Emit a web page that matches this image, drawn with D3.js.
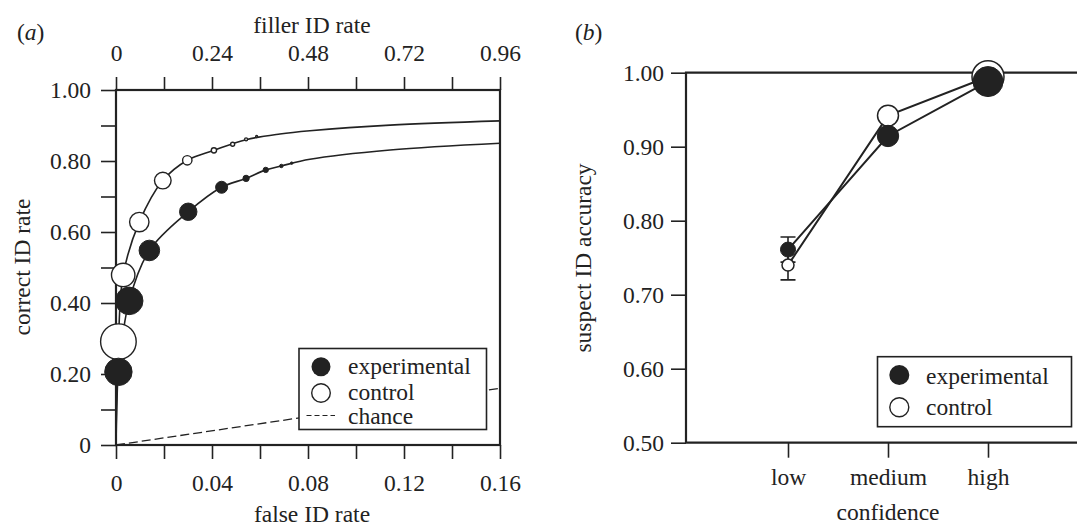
<!DOCTYPE html>
<html>
<head>
<meta charset="utf-8">
<script src="https://cdn.jsdelivr.net/npm/d3@7"></script>
<style>
  body { margin: 0; background: #fff; }
  svg, svg text { font-family: "Liberation Serif", "Times New Roman", serif; }
</style>
</head>
<body>
<svg id="svg" width="1077" height="526"></svg>
<script>
// ---- panel (a) data ----
const expFalse   = [0.001, 0.0055, 0.0139, 0.0301, 0.044, 0.0542, 0.0624, 0.0689, 0.0732];
const expCorrect = [0.206, 0.406, 0.548, 0.657, 0.726, 0.751, 0.775, 0.786, 0.794];
const expWeight  = [188, 190, 106, 76, 36, 10, 7, 3, 1.5];

const ctrlFalse   = [0.001, 0.003, 0.0097, 0.0195, 0.0297, 0.0408, 0.0486, 0.0542, 0.0586];
const ctrlCorrect = [0.291, 0.479, 0.628, 0.745, 0.802, 0.830, 0.847, 0.861, 0.869];
const ctrlWeight  = [317, 137, 94, 69, 22, 7, 4, 2.2, 1];

// fitted curves
const expCurveX  = [0, 0.0004, 0.001, 0.0055, 0.0139, 0.0301, 0.044, 0.0542, 0.0624, 0.0689, 0.0808, 0.1142, 0.16];
const expCurveY  = [0, 0.12, 0.206, 0.406, 0.548, 0.657, 0.726, 0.751, 0.775, 0.786, 0.805, 0.831, 0.850];
const ctrlCurveX = [0, 0.0003, 0.001, 0.003, 0.0097, 0.0195, 0.0297, 0.0408, 0.0542, 0.0683, 0.0808, 0.1142, 0.16];
const ctrlCurveY = [0, 0.15, 0.291, 0.479, 0.628, 0.745, 0.802, 0.830, 0.860, 0.876, 0.885, 0.901, 0.913];
const chanceX = [0, 0.16];
const chanceY = [0, 0.16];

const falseTicks = [0, 0.02, 0.04, 0.06, 0.08, 0.10, 0.12, 0.14, 0.16];
const falseTickLabels = ["0", "", "0.04", "", "0.08", "", "0.12", "", "0.16"];
const fillerTicks = [0, 0.12, 0.24, 0.36, 0.48, 0.60, 0.72, 0.84, 0.96];
const fillerTickLabels = ["0", "", "0.24", "", "0.48", "", "0.72", "", "0.96"];
const correctTicks = [0, 0.1, 0.2, 0.3, 0.4, 0.5, 0.6, 0.7, 0.8, 0.9, 1.0];
const correctTickLabels = ["0", "", "0.20", "", "0.40", "", "0.60", "", "0.80", "", "1.00"];

// ---- panel (b) data ----
const confidence = ["low", "medium", "high"];
const expAcc  = [0.761, 0.9145, 0.988];
const expErr  = [0.017, 0, 0];
const expN    = [56, 114, 225];
const ctrlAcc = [0.740, 0.942, 0.9946];
const ctrlErr = [0.020, 0, 0];
const ctrlN   = [36, 110, 256];
const accTicks = [0.5, 0.6, 0.7, 0.8, 0.9, 1.0];
const accTickLabels = ["0.50", "0.60", "0.70", "0.80", "0.90", "1.00"];

const ink = "#222";
const fontSize = 23.5;

let svg = d3.select("#svg");

function styleAxis(g, width) {
  g.attr("font-family", null).attr("font-size", null);
  g.select(".domain").remove();
  g.selectAll(".tick line").attr("stroke", ink).attr("stroke-width", width);
  g.selectAll(".tick text").attr("fill", ink).attr("font-size", fontSize);
}

// ================= panel (a) =================
const ax = { left: 116, right: 500, top: 90, bottom: 445 };
let xScale = d3.scaleLinear([0, 0.16], [ax.left, ax.right]);
let topScale = d3.scaleLinear([0, 0.96], [ax.left, ax.right]);
let yScale = d3.scaleLinear([0, 1], [ax.bottom, ax.top]);
let rScaleA = d3.scaleSqrt([0, d3.max(ctrlWeight)], [0, 17.8]);

svg.append("g")
  .attr("transform", `translate(0,${ax.bottom})`)
  .call(d3.axisBottom(xScale).tickValues(falseTicks).tickSize(14).tickPadding(15)
    .tickSizeOuter(0).tickFormat((d, i) => falseTickLabels[i]))
  .call(g => styleAxis(g, 1.6));

svg.append("g")
  .attr("transform", `translate(0,${ax.top})`)
  .call(d3.axisTop(topScale).tickValues(fillerTicks).tickSize(13).tickPadding(16)
    .tickSizeOuter(0).tickFormat((d, i) => fillerTickLabels[i]))
  .call(g => styleAxis(g, 1.6));

svg.append("g")
  .attr("transform", `translate(${ax.left},0)`)
  .call(d3.axisLeft(yScale).tickValues(correctTicks).tickSize(15).tickPadding(10)
    .tickSizeOuter(0).tickFormat((d, i) => correctTickLabels[i]))
  .call(g => styleAxis(g, 1.6));

svg.append("rect")
  .attr("x", ax.left).attr("y", ax.top)
  .attr("width", ax.right - ax.left).attr("height", ax.bottom - ax.top)
  .attr("fill", "none").attr("stroke", ink).attr("stroke-width", 2.2);

let lineA = d3.line()
  .x(d => xScale(d[0]))
  .y(d => yScale(d[1]))
  .curve(d3.curveCatmullRom.alpha(0.5));

svg.append("path")
  .datum(chanceX.map((x, i) => [x, chanceY[i]]))
  .attr("fill", "none").attr("stroke", ink).attr("stroke-width", 1.3)
  .attr("stroke-dasharray", "9,4")
  .attr("d", d3.line().x(d => xScale(d[0])).y(d => yScale(d[1])));

svg.append("path")
  .datum(ctrlCurveX.map((x, i) => [x, ctrlCurveY[i]]))
  .attr("fill", "none").attr("stroke", ink).attr("stroke-width", 1.6)
  .attr("d", lineA);

svg.append("path")
  .datum(expCurveX.map((x, i) => [x, expCurveY[i]]))
  .attr("fill", "none").attr("stroke", ink).attr("stroke-width", 1.6)
  .attr("d", lineA);

svg.append("g").selectAll("circle")
  .data(ctrlFalse.map((x, i) => ({ x, y: ctrlCorrect[i], w: ctrlWeight[i] })))
  .join("circle")
  .attr("cx", d => xScale(d.x)).attr("cy", d => yScale(d.y))
  .attr("r", d => rScaleA(d.w))
  .attr("fill", "#fff").attr("stroke", ink).attr("stroke-width", 1.4);

svg.append("g").selectAll("circle")
  .data(expFalse.map((x, i) => ({ x, y: expCorrect[i], w: expWeight[i] })))
  .join("circle")
  .attr("cx", d => xScale(d.x)).attr("cy", d => yScale(d.y))
  .attr("r", d => rScaleA(d.w))
  .attr("fill", ink).attr("stroke", ink).attr("stroke-width", 1);

// legend (a)
const legA = svg.append("g");
legA.append("rect").attr("x", 299).attr("y", 348.5).attr("width", 187.5).attr("height", 81)
  .attr("fill", "#fff").attr("stroke", ink).attr("stroke-width", 1.6);
legA.append("circle").attr("cx", 321).attr("cy", 366.7).attr("r", 9.5).attr("fill", ink);
legA.append("circle").attr("cx", 321).attr("cy", 393).attr("r", 9.3)
  .attr("fill", "#fff").attr("stroke", ink).attr("stroke-width", 1.4);
legA.append("line").attr("x1", 306.5).attr("x2", 335).attr("y1", 415.5).attr("y2", 415.5)
  .attr("stroke", ink).attr("stroke-width", 1.2).attr("stroke-dasharray", "5,3");
[["experimental", 373.5], ["control", 399.5], ["chance", 423.5]].forEach(([t, y]) => {
  legA.append("text").attr("x", 348).attr("y", y).attr("font-size", fontSize).attr("fill", ink).text(t);
});

// titles (a)
svg.append("text").attr("x", 312).attr("y", 33).attr("text-anchor", "middle")
  .attr("font-size", fontSize).attr("fill", ink).text("filler ID rate");
svg.append("text").attr("x", 312).attr("y", 522).attr("text-anchor", "middle")
  .attr("font-size", fontSize).attr("fill", ink).text("false ID rate");
svg.append("text").attr("transform", "translate(22,267) rotate(-90)").attr("dy", "0.35em")
  .attr("text-anchor", "middle").attr("font-size", fontSize).attr("fill", ink).text("correct ID rate");

const labA = svg.append("text").attr("x", 17).attr("y", 40).attr("font-size", fontSize).attr("fill", ink);
labA.append("tspan").text("(");
labA.append("tspan").attr("font-style", "italic").text("a");
labA.append("tspan").text(")");

// ================= panel (b) =================
const bx = { left: 686, right: 1090, top: 72.7, bottom: 442.7 };
let xScaleB = d3.scalePoint(confidence, [688, 1088]).padding(1);
let yScaleB = d3.scaleLinear([0.5, 1], [bx.bottom, bx.top]);
let rScaleB = d3.scaleSqrt([0, d3.max(ctrlN)], [0, 16]);

svg.append("g")
  .attr("transform", `translate(0,${bx.bottom})`)
  .call(d3.axisBottom(xScaleB).tickSize(15).tickPadding(11).tickSizeOuter(0))
  .call(g => styleAxis(g, 1.6));

svg.append("g")
  .attr("transform", `translate(${bx.left},0)`)
  .call(d3.axisLeft(yScaleB).tickValues(accTicks).tickSize(15).tickPadding(7)
    .tickSizeOuter(0).tickFormat((d, i) => accTickLabels[i]))
  .call(g => styleAxis(g, 1.6));

svg.append("path")
  .attr("d", `M${bx.right},${bx.top}H${bx.left}V${bx.bottom}H${bx.right}`)
  .attr("fill", "none").attr("stroke", ink).attr("stroke-width", 2.2);

let lineB = d3.line().x(d => xScaleB(d.c)).y(d => yScaleB(d.v));
const expB = confidence.map((c, i) => ({ c, v: expAcc[i], e: expErr[i], n: expN[i] }));
const ctrlB = confidence.map((c, i) => ({ c, v: ctrlAcc[i], e: ctrlErr[i], n: ctrlN[i] }));

[expB, ctrlB].forEach(series => {
  svg.append("path").datum(series)
    .attr("fill", "none").attr("stroke", ink).attr("stroke-width", 2)
    .attr("d", lineB);
  series.filter(d => d.e > 0).forEach(d => {
    const x = xScaleB(d.c), y0 = yScaleB(d.v - d.e), y1 = yScaleB(d.v + d.e);
    svg.append("path")
      .attr("d", `M${x},${y0}V${y1}M${x - 7.5},${y0}H${x + 7.5}M${x - 7.5},${y1}H${x + 7.5}`)
      .attr("fill", "none").attr("stroke", ink).attr("stroke-width", 1.6);
  });
});

svg.append("g").selectAll("circle").data(ctrlB).join("circle")
  .attr("cx", d => xScaleB(d.c)).attr("cy", d => yScaleB(d.v))
  .attr("r", d => rScaleB(d.n))
  .attr("fill", "#fff").attr("stroke", ink).attr("stroke-width", 1.5);

svg.append("g").selectAll("circle").data(expB).join("circle")
  .attr("cx", d => xScaleB(d.c)).attr("cy", d => yScaleB(d.v))
  .attr("r", d => rScaleB(d.n))
  .attr("fill", ink).attr("stroke", ink).attr("stroke-width", 1);

// legend (b)
const legB = svg.append("g");
legB.append("rect").attr("x", 877.5).attr("y", 356.7).attr("width", 194).attr("height", 70)
  .attr("fill", "#fff").attr("stroke", ink).attr("stroke-width", 1.6);
legB.append("circle").attr("cx", 899.3).attr("cy", 375).attr("r", 10).attr("fill", ink);
legB.append("circle").attr("cx", 899.3).attr("cy", 407.3).attr("r", 9.5)
  .attr("fill", "#fff").attr("stroke", ink).attr("stroke-width", 1.4);
[["experimental", 383.5], ["control", 415]].forEach(([t, y]) => {
  legB.append("text").attr("x", 926).attr("y", y).attr("font-size", fontSize).attr("fill", ink).text(t);
});

// titles (b)
svg.append("text").attr("x", 888).attr("y", 520).attr("text-anchor", "middle")
  .attr("font-size", fontSize).attr("fill", ink).text("confidence");
svg.append("text").attr("transform", "translate(583,258) rotate(-90)").attr("dy", "0.35em")
  .attr("text-anchor", "middle").attr("font-size", fontSize).attr("fill", ink).text("suspect ID accuracy");

const labB = svg.append("text").attr("x", 575).attr("y", 40).attr("font-size", fontSize).attr("fill", ink);
labB.append("tspan").text("(");
labB.append("tspan").attr("font-style", "italic").text("b");
labB.append("tspan").text(")");
</script>
</body>
</html>
